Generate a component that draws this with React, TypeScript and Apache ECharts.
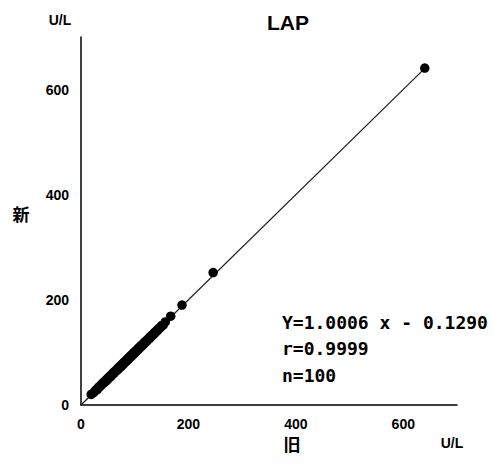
import React, { useEffect, useRef } from "react";
import * as echarts from "echarts";

const oldValues = [
  19, 24, 27, 30, 32, 34, 35, 37, 38, 40,
  41, 43, 44, 45, 47, 48, 49, 50, 52, 53,
  54, 55, 56, 58, 59, 60, 61, 62, 63, 65,
  66, 67, 68, 69, 70, 71, 72, 73, 74, 75,
  76, 77, 78, 79, 80, 81, 82, 83, 84, 85,
  86, 87, 88, 89, 90, 91, 92, 93, 94, 95,
  96, 97, 98, 99, 100, 102, 103, 104, 106, 107,
  108, 110, 111, 112, 114, 115, 117, 118, 120, 121,
  123, 125, 127, 129, 131, 133, 135, 137, 139, 141,
  143, 145, 148, 150, 153, 157, 167, 188, 246, 640,
];
const newValues = [
  20, 24, 28, 29, 33, 34, 36, 37, 39, 40,
  42, 43, 45, 44, 47, 49, 48, 51, 52, 54,
  53, 56, 55, 58, 60, 59, 62, 61, 64, 65,
  66, 68, 67, 70, 69, 72, 71, 74, 73, 76,
  75, 78, 77, 80, 79, 82, 81, 84, 83, 86,
  85, 88, 87, 90, 89, 92, 91, 94, 93, 96,
  95, 98, 97, 100, 99, 103, 102, 105, 105, 108,
  107, 111, 110, 113, 113, 116, 116, 119, 119, 122,
  122, 126, 126, 130, 130, 134, 134, 138, 138, 142,
  142, 146, 147, 151, 152, 158, 169, 190, 252, 641,
];
const slope = 1.0006;
const intercept = -0.129;
const lineRange = [0, 640];
const axisTicks = [0, 200, 400, 600];
const statLines = ["Y=1.0006 x - 0.1290", "r=0.9999", "n=100"];

export default function App() {
  const ref = useRef<HTMLDivElement>(null);
  useEffect(() => {
    if (!ref.current) return;
    const chart = echarts.init(ref.current, null, { renderer: "svg" });
    const points = oldValues.map((x, i) => [x, newValues[i]]);
    const lineData = lineRange.map((x) => [x, slope * x + intercept]);
    const tickSet = new Set(axisTicks);
    const labelStyle = {
      color: "#000",
      fontWeight: "bold" as const,
      fontSize: 14,
      fontFamily: "Liberation Sans, Arial, sans-serif",
      showMaxLabel: false,
      formatter: (v: number) => (tickSet.has(v) ? String(v) : ""),
    };
    const jp = "'Noto Sans CJK JP', sans-serif";
    chart.setOption({
      animation: false,
      backgroundColor: "#fff",
      grid: { left: 81, top: 37, width: 376, height: 368 },
      xAxis: {
        type: "value",
        min: 0,
        max: 700,
        interval: 200,
        axisLine: { show: true, lineStyle: { color: "#000", width: 1.5 } },
        axisTick: { show: false },
        splitLine: { show: false },
        axisLabel: { ...labelStyle, margin: 12 },
      },
      yAxis: {
        type: "value",
        min: 0,
        max: 700,
        interval: 200,
        axisLine: { show: true, lineStyle: { color: "#000", width: 1.5 } },
        axisTick: { show: false },
        splitLine: { show: false },
        axisLabel: { ...labelStyle, margin: 12 },
      },
      series: [
        {
          type: "line",
          data: lineData,
          showSymbol: false,
          symbol: "none",
          lineStyle: { color: "#222", width: 1.3 },
          z: 1,
        },
        {
          type: "scatter",
          data: points,
          symbolSize: 9.5,
          itemStyle: { color: "#000", opacity: 1 },
          z: 2,
        },
      ],
      graphic: [
        {
          type: "text",
          x: 288,
          y: 22,
          style: {
            text: "LAP",
            fill: "#000",
            font: "bold 21px 'Liberation Sans Narrow', 'Liberation Sans', Arial, sans-serif",
            textAlign: "center",
            textVerticalAlign: "middle",
          },
        },
        {
          type: "text",
          x: 60,
          y: 20,
          style: {
            text: "U/L",
            fill: "#000",
            font: "bold 14px 'Liberation Sans', Arial, sans-serif",
            textAlign: "center",
            textVerticalAlign: "middle",
          },
        },
        {
          type: "text",
          x: 21,
          y: 213,
          style: {
            text: "新",
            fill: "#000",
            font: `bold 17px ${jp}`,
            textAlign: "center",
            textVerticalAlign: "middle",
          },
        },
        {
          type: "text",
          x: 292,
          y: 443,
          style: {
            text: "旧",
            fill: "#000",
            font: `bold 17px ${jp}`,
            textAlign: "center",
            textVerticalAlign: "middle",
          },
        },
        {
          type: "text",
          x: 452,
          y: 443,
          style: {
            text: "U/L",
            fill: "#000",
            font: "bold 14px 'Liberation Sans', Arial, sans-serif",
            textAlign: "center",
            textVerticalAlign: "middle",
          },
        },
        ...statLines.map((t, i) => ({
          type: "text",
          x: 282,
          y: 322 + i * 26.5,
          style: {
            text: t,
            fill: "#000",
            font: "bold 18px 'DejaVu Sans Mono', 'Liberation Mono', monospace",
            textAlign: "left",
            textVerticalAlign: "middle",
          },
        })),
      ],
    });
    return () => chart.dispose();
  }, []);
  return <div ref={ref} style={{ width: 495, height: 468, position: "absolute", left: 0, top: 0 }} />;
}
